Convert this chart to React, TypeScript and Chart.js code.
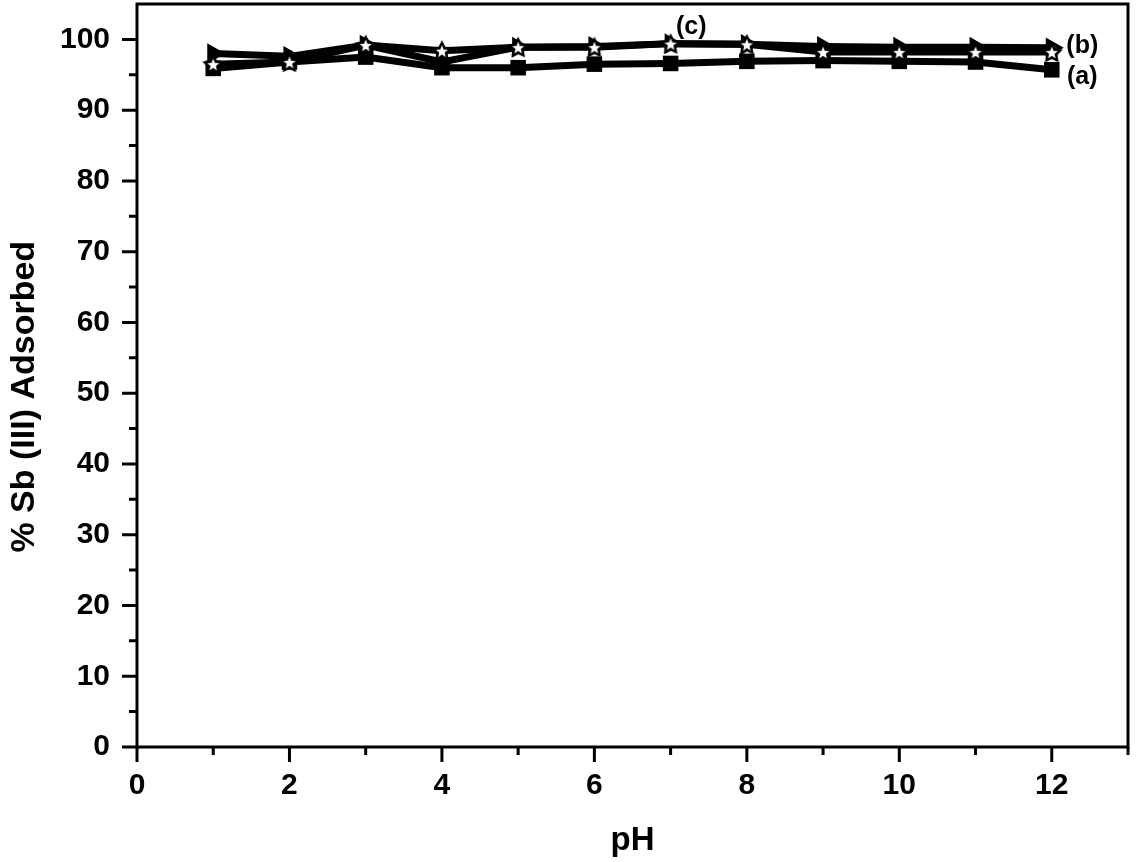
import React, { useEffect, useRef } from "react";
import { Chart, registerables } from "chart.js";

Chart.register(...registerables);

// ---- data ----
const phValues = [1, 2, 3, 4, 5, 6, 7, 8, 9, 10, 11, 12];
const seriesA = [95.9, 96.8, 97.5, 96.0, 96.0, 96.5, 96.6, 96.9, 97.0, 96.9, 96.8, 95.7];
const seriesB = [98.0, 97.6, 99.2, 96.8, 98.9, 99.0, 99.4, 99.3, 99.0, 98.9, 98.9, 98.8];
const seriesC = [96.5, 96.8, 99.2, 98.4, 98.9, 98.9, 99.4, 99.3, 98.2, 98.2, 98.2, 98.2];

const xMajorTicks = [0, 2, 4, 6, 8, 10, 12];
const xMinorTicks = [1, 3, 5, 7, 9, 11, 13];
const yMajorTicks = [0, 10, 20, 30, 40, 50, 60, 70, 80, 90, 100];
const yMinorTicks = [5, 15, 25, 35, 45, 55, 65, 75, 85, 95];

const seriesNames = ["(a)", "(b)", "(c)"];
const seriesNameX = [12.4, 12.4, 7.27];
const seriesNameY = [94.6, 99.0, 101.7];

const xTitle = "pH";
const yTitle = "% Sb (III) Adsorbed";
const yTitleCenterValue = 49.5;

const FONT = '"Liberation Sans", Arial, Helvetica, sans-serif';

function makeStar(): HTMLCanvasElement {
  const c = document.createElement("canvas");
  const s = 24;
  c.width = s;
  c.height = s;
  const g = c.getContext("2d")!;
  const drawStar = (R: number, r: number, fill: string) => {
    g.beginPath();
    for (let i = 0; i < 10; i++) {
      const rad = i % 2 === 0 ? R : r;
      const a = -Math.PI / 2 + (i * Math.PI) / 5;
      const px = s / 2 + rad * Math.cos(a);
      const py = s / 2 + 1 + rad * Math.sin(a);
      if (i === 0) g.moveTo(px, py);
      else g.lineTo(px, py);
    }
    g.closePath();
    g.fillStyle = fill;
    g.fill();
  };
  drawStar(11.5, 6.0, "#000");
  drawStar(6.4, 2.8, "#fff");
  return c;
}

const axesPlugin = {
  id: "axesTicks",
  afterDatasetsDraw(chart: any) {
    const { ctx, chartArea, scales } = chart;
    const { left, right, top, bottom } = chartArea;
    const x = scales.x;
    const y = scales.y;
    ctx.save();
    ctx.strokeStyle = "#000";
    ctx.lineWidth = 3;
    ctx.lineCap = "butt";
    ctx.strokeRect(left, top, right - left, bottom - top);
    ctx.beginPath();
    yMajorTicks.forEach((v) => {
      const py = y.getPixelForValue(v);
      ctx.moveTo(left, py);
      ctx.lineTo(left - 15, py);
    });
    yMinorTicks.forEach((v) => {
      const py = y.getPixelForValue(v);
      ctx.moveTo(left, py);
      ctx.lineTo(left - 8, py);
    });
    xMajorTicks.forEach((v) => {
      const px = x.getPixelForValue(v);
      ctx.moveTo(px, bottom);
      ctx.lineTo(px, bottom + 15);
    });
    xMinorTicks.forEach((v) => {
      const px = x.getPixelForValue(v);
      ctx.moveTo(px, bottom);
      ctx.lineTo(px, bottom + 8);
    });
    ctx.stroke();

    ctx.fillStyle = "#000";
    ctx.font = `bold 25px ${FONT}`;
    ctx.textAlign = "center";
    ctx.textBaseline = "middle";
    seriesNames.forEach((name, i) => {
      ctx.fillText(name, x.getPixelForValue(seriesNameX[i]), y.getPixelForValue(seriesNameY[i]));
    });

    // y axis title
    ctx.save();
    ctx.translate(25, y.getPixelForValue(yTitleCenterValue));
    ctx.rotate(-Math.PI / 2);
    ctx.font = `bold 34px ${FONT}`;
    ctx.fillText(yTitle, 0, 0);
    ctx.restore();
    ctx.restore();
  },
};

export default function App() {
  const canvasRef = useRef<HTMLCanvasElement | null>(null);

  useEffect(() => {
    if (!canvasRef.current) return;
    const star = makeStar();
    const toPts = (arr: number[]) => phValues.map((p, i) => ({ x: p, y: arr[i] }));
    const chart = new Chart(canvasRef.current, {
      type: "line",
      data: {
        datasets: [
          {
            label: "(a)",
            data: toPts(seriesA),
            borderColor: "#000",
            backgroundColor: "#000",
            borderWidth: 7,
            pointStyle: "rect",
            pointRadius: 11,
            pointBorderWidth: 0,
            tension: 0,
            order: 2,
          },
          {
            label: "(b)",
            data: toPts(seriesB),
            borderColor: "#000",
            backgroundColor: "#000",
            borderWidth: 7,
            pointStyle: "triangle",
            pointRotation: 90,
            pointRadius: 12,
            pointBorderWidth: 0,
            tension: 0,
            order: 1,
          },
          {
            label: "(c)",
            data: toPts(seriesC),
            borderColor: "#000",
            backgroundColor: "#000",
            borderWidth: 7,
            pointStyle: star as any,
            pointRadius: 12,
            pointBorderWidth: 0,
            tension: 0,
            order: 0,
          },
        ],
      },
      options: {
        animation: false,
        responsive: true,
        maintainAspectRatio: false,
        events: [],
        layout: { autoPadding: false, padding: { top: 4, right: 9, left: 0, bottom: 0 } },
        plugins: {
          legend: { display: false },
          tooltip: { enabled: false },
        },
        scales: {
          x: {
            type: "linear",
            min: 0,
            max: 13,
            grid: { display: false, drawTicks: false },
            border: { display: false },
            afterBuildTicks: (scale: any) => {
              scale.ticks = xMajorTicks.map((v) => ({ value: v }));
            },
            afterFit: (scale: any) => {
              scale.height = 115;
              scale.paddingLeft = 0;
              scale.paddingRight = 0;
            },
            ticks: {
              color: "#000",
              padding: 21,
              maxRotation: 0,
              font: { family: FONT, size: 30, weight: "bold" },
            },
            title: {
              display: true,
              text: xTitle,
              color: "#000",
              padding: { top: 0, bottom: 1 },
              font: { family: FONT, size: 33, weight: "bold" },
            },
          },
          y: {
            type: "linear",
            min: 0,
            max: 105,
            grid: { display: false, drawTicks: false },
            border: { display: false },
            afterBuildTicks: (scale: any) => {
              scale.ticks = yMajorTicks.map((v) => ({ value: v }));
            },
            afterFit: (scale: any) => {
              scale.width = 137;
              scale.paddingTop = 0;
              scale.paddingBottom = 0;
            },
            ticks: {
              color: "#000",
              padding: 27,
              font: { family: FONT, size: 30, weight: "bold" },
            },
            title: { display: false },
          },
        },
      },
      plugins: [axesPlugin],
    });
    return () => chart.destroy();
  }, []);

  return (
    <div style={{ position: "fixed", left: 0, top: 0, width: 1137, height: 862, background: "#fff" }}>
      <canvas ref={canvasRef} />
    </div>
  );
}
